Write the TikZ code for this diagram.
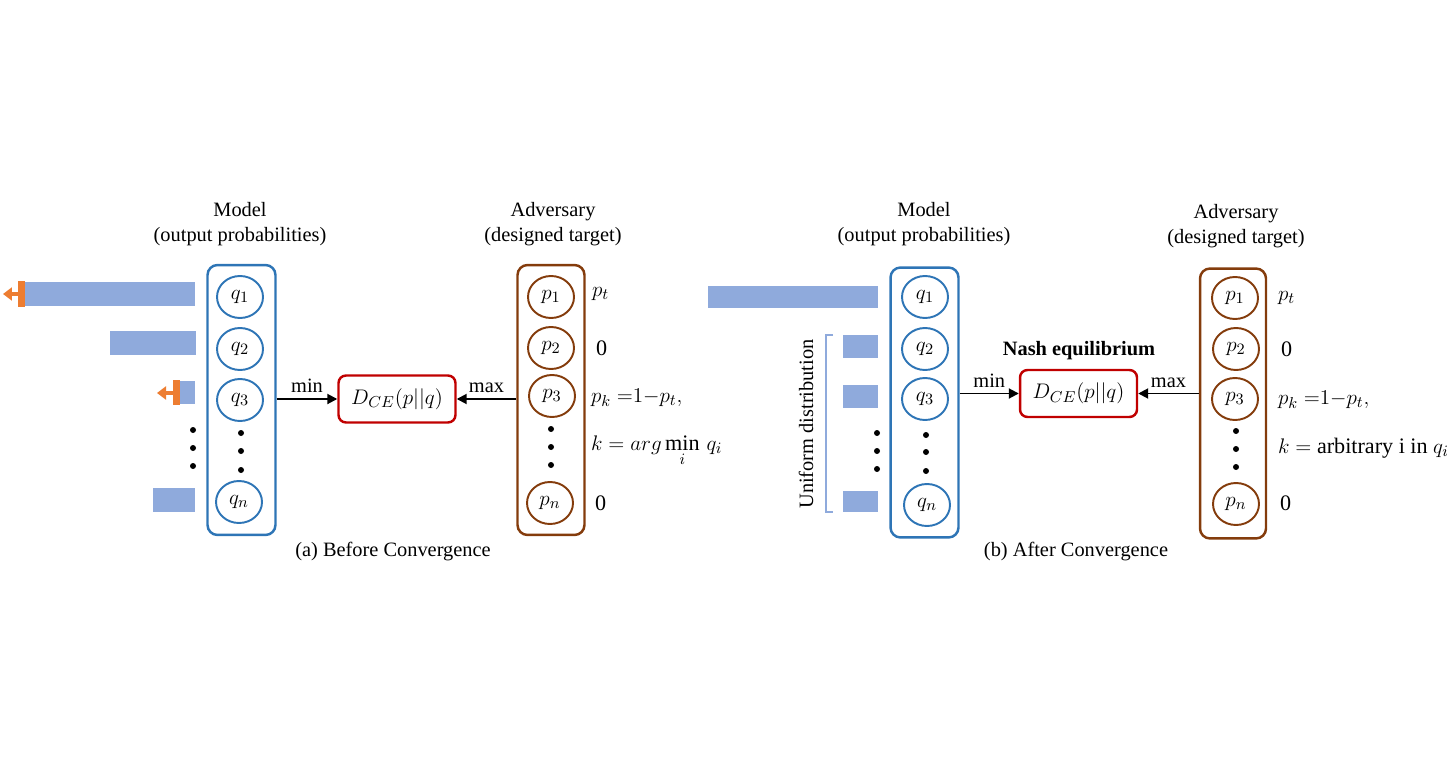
\documentclass[tikz,border=0pt]{standalone}
\usepackage{amsmath}
\usepackage{xcolor}
\usepackage{fontspec}
\setmainfont{Liberation Serif}
\usepackage{tikz}
\usetikzlibrary{arrows.meta,shapes.geometric}

\definecolor{modelblue}{HTML}{2E75B6}
\definecolor{advbrown}{HTML}{843C0C}
\definecolor{lossred}{HTML}{C00000}
\definecolor{barblue}{HTML}{8FAADC}
\definecolor{pushorange}{HTML}{ED7D31}

\begin{document}
\begin{tikzpicture}[x=0.02cm,y=-0.02cm,
	font=\fontsize{11.6pt}{14.2pt}\selectfont,
	modelbox/.style={draw=modelblue,line width=1.4pt,rounded corners=0.2cm,
		minimum width=1.36cm,minimum height=5.4cm},
	advbox/.style={draw=advbrown,line width=1.4pt,rounded corners=0.2cm,
		minimum width=1.34cm,minimum height=5.4cm},
	qcirc/.style={ellipse,draw=modelblue,line width=1.1pt,inner sep=0pt,
		minimum width=0.92cm,minimum height=0.84cm,font=\fontsize{13pt}{15pt}\selectfont},
	pcirc/.style={ellipse,draw=advbrown,line width=1.1pt,inner sep=0pt,
		minimum width=0.92cm,minimum height=0.84cm,font=\fontsize{13pt}{15pt}\selectfont},
	lossbox/.style={draw=lossred,line width=1.4pt,rounded corners=0.15cm,
		minimum width=2.34cm,minimum height=0.94cm,font=\fontsize{12.4pt}{15pt}\selectfont},
	target/.style={anchor=west,inner sep=1pt,font=\fontsize{12.6pt}{15pt}\selectfont},
	game/.style={line width=1.1pt,-{Triangle[length=0.2cm,width=0.2cm]}},
	push/.style={pushorange,line width=2pt,-{Triangle[length=0.18cm,width=0.26cm]}},
	title/.style={align=center}]
	\useasboundingbox (0,0) rectangle (1449,773);
	% (a) before convergence
	\node[title] (modelA) at (240,224) {Model\\(output probabilities)};
	\node[title] (advA) at (553,224) {Adversary\\(designed target)};
	\node[modelbox] (mA) at (241.5,400) {};
	\node[advbox] (aA) at (551,400) {};
	\node[qcirc] (qa1) at (240,297) {$q_1$};
	\node[qcirc] (qa2) at (240,349) {$q_2$};
	\node[qcirc] (qa3) at (240,400) {$q_3$};
	\node[qcirc] (qan) at (239,502) {$q_n$};
	\node[pcirc] (pa1) at (551,297) {$p_1$};
	\node[pcirc] (pa2) at (551,348) {$p_2$};
	\node[pcirc] (pa3) at (552,396) {$p_3$};
	\node[pcirc] (pan) at (550,503) {$p_n$};
	\fill (241,433) circle (3) (241,451) circle (3) (241,470) circle (3);
	\fill (551,429) circle (3) (551,447) circle (3) (551,465) circle (3);
	\node[lossbox] (dA) at (397,399) {$D_{CE}(p||q)$};
	\draw[game] (mA.east |- dA.west) -- node[above,inner sep=3pt] {min} (dA.west);
	\draw[game] (aA.west |- dA.east) -- node[above,inner sep=3pt] {max} (dA.east);
	% bars of q
	\fill[barblue] (25,282) rectangle (195,306);
	\fill[barblue] (110,331) rectangle (196,355);
	\fill[barblue] (180,381) rectangle (195,404);
	\fill[barblue] (153,488) rectangle (195,512);
	\fill (193,430) circle (3) (193,448) circle (3) (193,466) circle (3);
	\fill[pushorange] (18,281) rectangle (25,307);
	\fill[pushorange] (173,380) rectangle (180,405);
	\coordinate (oa1) at (3,294);
	\coordinate (oa3) at (157,393);
	\draw[push] (18,294) -- (oa1);
	\draw[push] (173,393) -- (oa3);
	% targets
	\node[target] (ta1) at (590,294) {$p_t$};
	\node[target] (ta2) at (594,348) {0};
	\node[target] (ta3) at (589,398) {$p_k\ {=}1{-}p_t,$};
	\node[target] (ta4) at (589,451) {$k = arg\min\limits_i\, q_i$};
	\node[target] (tan) at (593,503) {0};
	\node (capA) at (393,552) {(a) Before Convergence};
	% (b) after convergence
	\node[title] (modelB) at (924,224) {Model\\(output probabilities)};
	\node[title] (advB) at (1236,226) {Adversary\\(designed target)};
	\node[modelbox] (mB) at (924.5,402.5) {};
	\node[advbox, minimum width=1.32cm] (aB) at (1233,403.5) {};
	\node[qcirc] (qb1) at (925,297) {$q_1$};
	\node[qcirc] (qb2) at (925,349) {$q_2$};
	\node[qcirc] (qb3) at (925,399) {$q_3$};
	\node[qcirc] (qbn) at (927,505) {$q_n$};
	\node[pcirc] (pb1) at (1235,298) {$p_1$};
	\node[pcirc] (pb2) at (1236,349) {$p_2$};
	\node[pcirc] (pb3) at (1235,399) {$p_3$};
	\node[pcirc] (pbn) at (1236,504) {$p_n$};
	\fill (926,435) circle (3) (926,452) circle (3) (926,471) circle (3);
	\fill (1236,431) circle (3) (1236,449) circle (3) (1236,467) circle (3);
	\node[lossbox] (dB) at (1078.5,393.5) {$D_{CE}(p||q)$};
	\node[font=\fontsize{11.6pt}{14.2pt}\selectfont\bfseries] (nash) at (1079,351) {Nash equilibrium};
	\draw[game] (mB.east |- dB.west) -- node[above,inner sep=3pt] {min} (dB.west);
	\draw[game] (aB.west |- dB.east) -- node[above,inner sep=3pt] {max} (dB.east);
	% bars of q
	\fill[barblue] (708,286) rectangle (878,308);
	\fill[barblue] (843,335) rectangle (878,358);
	\fill[barblue] (843,385) rectangle (878,408);
	\fill[barblue] (843,491) rectangle (878,512);
	\fill (877,433) circle (3) (877,451) circle (3) (877,469) circle (3);
	\draw[barblue,line width=0.6pt] (833,335) -- (826,335) -- (826,512) -- (833,512);
	\node[rotate=90] (unif) at (806,424) {Uniform distribution};
	% targets
	\node[target] (tb1) at (1276,298) {$p_t$};
	\node[target] (tb2) at (1279,349) {0};
	\node[target] (tb3) at (1276,400) {$p_k\ {=}1{-}p_t,$};
	\node[target] (tb4) at (1276,448) {$k =$ arbitrary i in $q_i$};
	\node[target] (tbn) at (1278,503) {0};
	\node (capB) at (1076,552) {(b) After Convergence};
\end{tikzpicture}
\end{document}
